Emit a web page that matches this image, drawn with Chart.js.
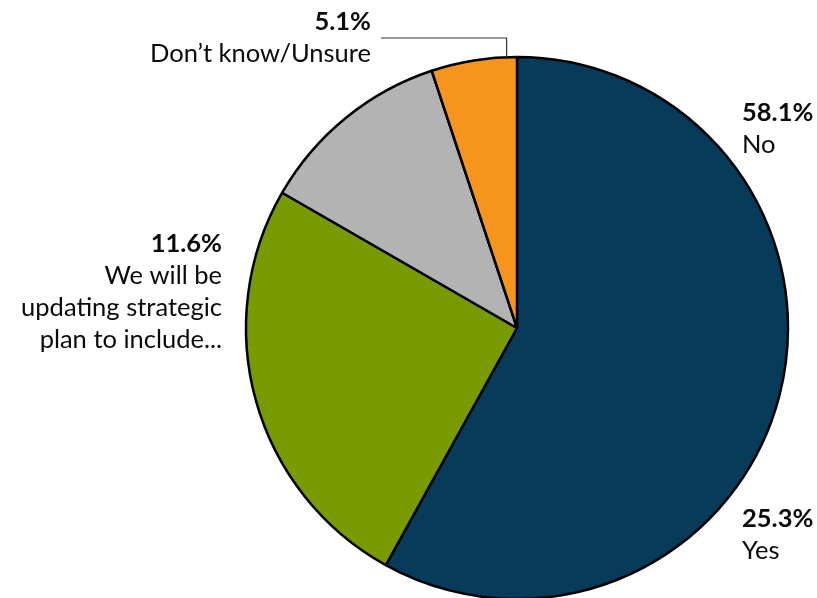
<!DOCTYPE html>
<html>
<head>
<meta charset="utf-8">
<script src="https://cdn.jsdelivr.net/npm/chart.js@4/dist/chart.umd.min.js"></script>
<style>
  html, body { margin: 0; padding: 0; background: #fff; }
  #wrap { width: 817px; height: 598px; }
</style>
</head>
<body>
<div id="wrap"><canvas id="pie"></canvas></div>
<script>
const categories = ['No', 'Yes', 'We will be updating strategic plan to include...', 'Don\u2019t know/Unsure'];
const shares = [58.1, 25.3, 11.6, 5.1];
const sliceColors = ['#073b5a', '#7a9a01', '#b3b3b3', '#f7941d'];

// callout text, one block per slice
const callouts = [
  { i: 0, x: 742, y: 121, align: 'left', lines: ['No'] },
  { i: 1, x: 742, y: 527, align: 'left', lines: ['Yes'] },
  { i: 2, x: 222, y: 252, align: 'right', lines: ['We will be', 'updating strategic', 'plan to include...'] },
  { i: 3, x: 371, y: 30, align: 'right', lines: ['Don\u2019t know/Unsure'] }
];

const FONT = 'Lato, "Open Sans", sans-serif';

const calloutPlugin = {
  id: 'callouts',
  afterDraw(chart) {
    const ctx = chart.ctx;
    ctx.save();
    ctx.fillStyle = '#0a0a0a';
    callouts.forEach(c => {
      ctx.textAlign = c.align;
      ctx.textBaseline = 'alphabetic';
      ctx.font = 'bold 25.5px ' + FONT;
      ctx.fillText(shares[c.i].toFixed(1) + '%', c.x, c.y);
      ctx.font = '25.5px ' + FONT;
      c.lines.forEach((t, k) => ctx.fillText(t, c.x, c.y + 32 * (k + 1)));
    });
    // leader line for the small orange slice, meeting the rim near its right edge
    const arc = chart.getDatasetMeta(0).data[3];
    const a = arc.startAngle + (arc.endAngle - arc.startAngle) * 0.88;
    const ex = arc.x + Math.cos(a) * arc.outerRadius;
    const ey = arc.y + Math.sin(a) * arc.outerRadius;
    ctx.strokeStyle = '#333';
    ctx.lineWidth = 1.2;
    ctx.beginPath();
    ctx.moveTo(381, 38);
    ctx.lineTo(ex, 38);
    ctx.lineTo(ex, ey + 2);
    ctx.stroke();
    ctx.restore();
  }
};

new Chart(document.getElementById('pie'), {
  type: 'pie',
  data: {
    labels: categories,
    datasets: [{
      data: shares,
      backgroundColor: sliceColors,
      borderColor: '#000',
      borderWidth: 2.5,
      radius: 271
    }]
  },
  options: {
    responsive: true,
    maintainAspectRatio: false,
    animation: false,
    layout: { padding: { left: 247, right: 30, top: 58, bottom: 0 } },
    plugins: {
      legend: { display: false },
      tooltip: { enabled: false }
    }
  },
  plugins: [calloutPlugin]
});
</script>
</body>
</html>
